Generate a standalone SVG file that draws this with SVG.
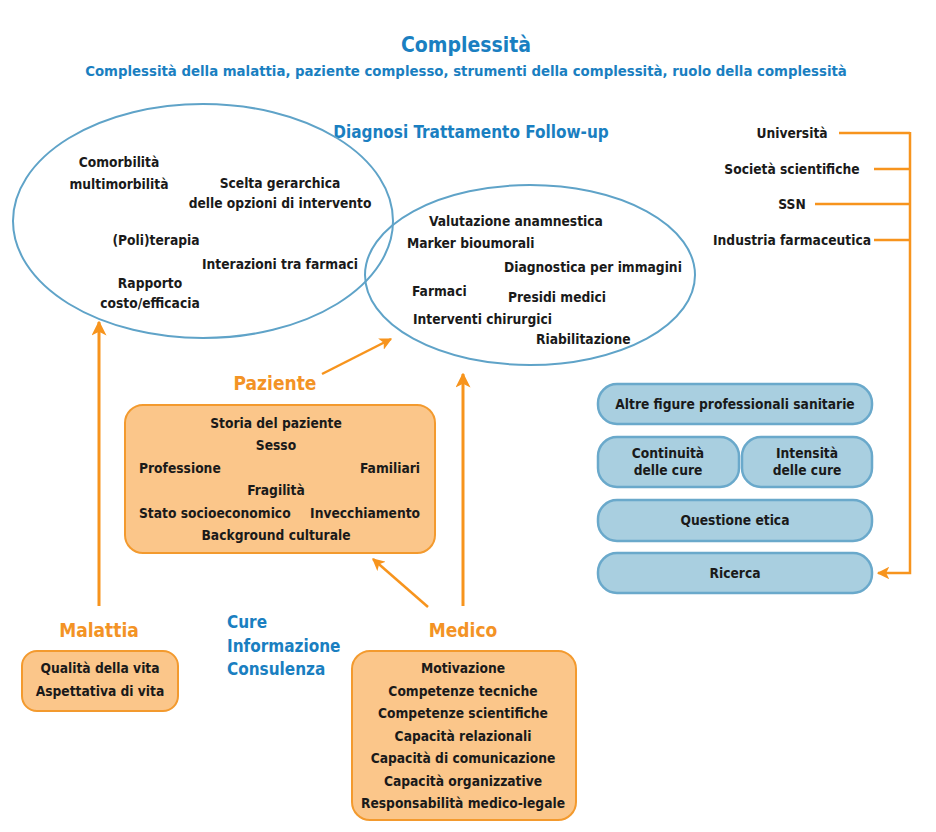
<svg xmlns="http://www.w3.org/2000/svg" width="936" height="832" viewBox="0 0 936 832">
<defs>
<style>
text{font-family:"Liberation Sans Narrow","DejaVu Sans Condensed","Liberation Sans",sans-serif;font-weight:bold;}
.t{font-size:13.7px;fill:#1a1a1a;}
.c{text-anchor:middle;}
.e{text-anchor:end;}
.blue{fill:#1a7fc1;}
.or{fill:#f39325;}
.ell{fill:none;stroke:#5fa3c8;stroke-width:2;}
.ob{fill:#fbc68a;stroke:#f39a2e;stroke-width:2;}
.bb{fill:#a9cfe0;stroke:#6aa9cb;stroke-width:2.5;}
.ln{fill:none;stroke:#f7941d;stroke-width:3;}
.ln2{fill:none;stroke:#f7941d;stroke-width:2.5;}
</style>
<marker id="ah" viewBox="0 0 10 10" refX="9" refY="5" markerWidth="5" markerHeight="5" orient="auto" markerUnits="strokeWidth">
<path d="M0,0 L10,5 L0,10 L2.5,5 z" fill="#f7941d"/>
</marker>
</defs>
<rect width="936" height="832" fill="#ffffff"/>
<g id="title">
<text x="466" y="52" class="c blue" font-size="21">Complessità</text>
<text x="466" y="76" class="c blue" font-size="14.8">Complessità della malattia, paziente complesso, strumenti della complessità, ruolo della complessità</text>
</g>
<g id="dtf-label"><text x="471" y="138" class="c blue" font-size="17">Diagnosi Trattamento Follow-up</text></g>
<g id="ellipse-left">
<ellipse cx="203" cy="221" rx="190" ry="117" class="ell"/>
<text x="119" y="167" class="t c">Comorbilità</text>
<text x="119" y="189" class="t c">multimorbilità</text>
<text x="280" y="188" class="t c">Scelta gerarchica</text>
<text x="280" y="208" class="t c">delle opzioni di intervento</text>
<text x="156" y="245" class="t c">(Poli)terapia</text>
<text x="280" y="269" class="t c">Interazioni tra farmaci</text>
<text x="150" y="288" class="t c">Rapporto</text>
<text x="150" y="308" class="t c">costo/efficacia</text>
</g>
<g id="ellipse-right">
<ellipse cx="530" cy="275" rx="165" ry="90" class="ell"/>
<text x="429" y="226" class="t">Valutazione anamnestica</text>
<text x="407" y="248" class="t">Marker bioumorali</text>
<text x="504" y="272" class="t">Diagnostica per immagini</text>
<text x="412" y="296" class="t">Farmaci</text>
<text x="508" y="302" class="t">Presidi medici</text>
<text x="413" y="324" class="t">Interventi chirurgici</text>
<text x="536" y="344" class="t">Riabilitazione</text>
</g>
<g id="sources">
<text x="792" y="138" class="t c">Università</text>
<text x="792" y="174" class="t c">Società scientifiche</text>
<text x="792" y="209" class="t c">SSN</text>
<text x="792" y="245" class="t c">Industria farmaceutica</text>
</g>
<g id="altre"><rect x="598" y="384" width="274" height="40" rx="19" class="bb"/><text x="735" y="409" class="t c">Altre figure professionali sanitarie</text></g>
<g id="continuita"><rect x="598" y="437" width="141" height="50" rx="19" class="bb"/><text x="668" y="458" class="t c">Continuità</text><text x="668" y="475" class="t c">delle cure</text></g>
<g id="intensita"><rect x="742" y="437" width="130" height="50" rx="19" class="bb"/><text x="807" y="458" class="t c">Intensità</text><text x="807" y="475" class="t c">delle cure</text></g>
<g id="etica"><rect x="598" y="500" width="274" height="41" rx="19" class="bb"/><text x="735" y="525" class="t c">Questione etica</text></g>
<g id="ricerca"><rect x="598" y="553" width="274" height="40" rx="19" class="bb"/><text x="735" y="578" class="t c">Ricerca</text></g>
<g id="paziente">
<text x="275" y="390" class="c or" font-size="19">Paziente</text>
<rect x="125" y="405" width="310" height="148" rx="18" class="ob"/>
<text x="276" y="428" class="t c">Storia del paziente</text>
<text x="276" y="450" class="t c">Sesso</text>
<text x="139" y="473" class="t">Professione</text>
<text x="420" y="473" class="t e">Familiari</text>
<text x="276" y="495" class="t c">Fragilità</text>
<text x="139" y="518" class="t">Stato socioeconomico</text>
<text x="420" y="518" class="t e">Invecchiamento</text>
<text x="276" y="540" class="t c">Background culturale</text>
</g>
<g id="malattia">
<text x="99" y="637" class="c or" font-size="19">Malattia</text>
<rect x="22" y="651" width="156" height="60" rx="15" class="ob"/>
<text x="100" y="673" class="t c">Qualità della vita</text>
<text x="100" y="696" class="t c">Aspettativa di vita</text>
</g>
<g id="cure">
<text x="227" y="628" class="blue" font-size="17">Cure</text>
<text x="227" y="652" class="blue" font-size="17">Informazione</text>
<text x="227" y="675" class="blue" font-size="17">Consulenza</text>
</g>
<g id="medico">
<text x="463" y="637" class="c or" font-size="19">Medico</text>
<rect x="352" y="651" width="224" height="169" rx="18" class="ob"/>
<text x="463" y="673" class="t c">Motivazione</text>
<text x="463" y="696" class="t c">Competenze tecniche</text>
<text x="463" y="718" class="t c">Competenze scientifiche</text>
<text x="463" y="741" class="t c">Capacità relazionali</text>
<text x="463" y="763" class="t c">Capacità di comunicazione</text>
<text x="463" y="786" class="t c">Capacità organizzative</text>
<text x="463" y="808" class="t c">Responsabilità medico-legale</text>
</g>
<g id="connectors">
<path d="M99,606 V322" class="ln" marker-end="url(#ah)"/>
<path d="M463,606 V374" class="ln" marker-end="url(#ah)"/>
<path d="M322,374 L391,339" class="ln2" marker-end="url(#ah)"/>
<path d="M428,607 L373,559" class="ln2" marker-end="url(#ah)"/>
<path d="M839,133 H910 M874,169 H910 M815,204 H910 M874,240 H910" class="ln2"/>
<path d="M910,132 V573 H878" class="ln2" marker-end="url(#ah)"/>
</g>
</svg>
